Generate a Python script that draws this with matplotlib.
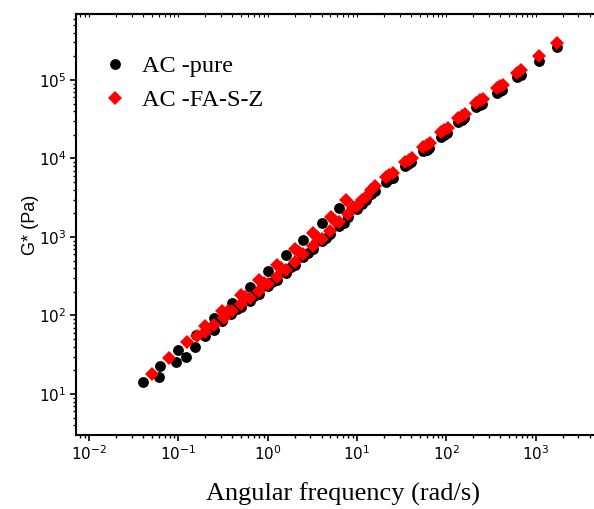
import matplotlib
matplotlib.use("Agg")
import matplotlib.pyplot as plt
from matplotlib.ticker import FixedLocator, LogLocator, NullFormatter

plt.rcParams["mathtext.fontset"] = "custom"
plt.rcParams["mathtext.rm"] = "Liberation Sans"
plt.rcParams["mathtext.it"] = "Liberation Sans:italic"
plt.rcParams["axes.unicode_minus"] = False

# ── DATA ──────────────────────────────────────────────────────────────────────

# AC-pure : angular frequency (rad/s) and G* (Pa)
pure_freq = [0.063, 0.1, 0.158, 0.25, 0.4, 0.63, 1.0, 1.58, 2.51, 4.0, 6.3,
             0.04, 0.061, 0.095, 0.123, 0.155, 0.2, 0.25, 0.31, 0.39, 0.5,
             0.63, 0.79, 1.0, 1.26, 1.58, 2.0, 2.5, 3.2, 4.0, 5.0, 6.3, 7.9,
             10, 12.6,
             0.45, 0.71, 1.12, 1.8, 2.8, 4.5, 7.1, 11.2,
             14.4, 16, 21, 23, 25, 34, 37, 40, 55, 60, 64, 87, 95, 102,
             135, 148, 158, 215, 235, 250, 365, 395, 420, 610, 680, 1075, 1730]
pure_g = [22.8, 36, 56, 93, 145, 230, 370, 590, 915, 1500, 2350,
          14.2, 16.5, 25.5, 30, 40, 55, 66, 85, 105, 130,
          155, 190, 235, 285, 350, 440, 550, 700, 880, 1100, 1400, 1800,
          2300, 3000,
          120, 175, 265, 410, 620, 980, 1500, 2600,
          3500, 3800, 5000, 5400, 5700, 8000, 8400, 8900, 12300, 13000, 13600,
          19000, 20000, 21000, 29000, 31000, 32500, 45000, 48000, 50000,
          68000, 72000, 75000, 108000, 116000, 172000, 262000]

# AC-FA-S-Z
fasz_freq = [0.051, 0.079, 0.126, 0.2, 0.31, 0.5, 0.79, 1.26, 2.0, 3.2, 5.1, 7.5,
             0.16, 0.2, 0.25, 0.32, 0.4, 0.5, 0.63, 0.8, 1.0, 1.26, 1.6, 2.0,
             2.5, 3.2, 4.0, 5.0, 6.3, 8.0, 10, 12.6,
             0.36, 0.56, 0.9, 1.42, 2.25, 3.6, 5.6, 9.0, 11.2,
             14.4, 16, 21, 23, 25, 34, 38, 41, 55, 60, 65, 87, 95, 103,
             135, 148, 160, 215, 235, 255, 365, 395, 425, 615, 690, 1075, 1730]
fasz_g = [18, 28.6, 46, 74, 114, 183, 283, 440, 700, 1130, 1780, 3000,
          55, 62, 75, 92, 115, 140, 168, 205, 255, 310, 380, 480,
          600, 760, 950, 1200, 1530, 1950, 2500, 3200,
          115, 170, 260, 400, 640, 1000, 1600, 2400, 3000,
          4000, 4400, 5800, 6200, 6600, 9000, 9600, 10200, 14000, 14800, 15600,
          21500, 23000, 24500, 33000, 35000, 37000, 51000, 55000, 58000,
          78000, 83000, 87000, 122000, 132000, 203000, 296000]

LABELS = ["AC -pure", "AC -FA-S-Z"]
X_TICKS = [1e-2, 1e-1, 1e0, 1e1, 1e2, 1e3]
Y_TICKS = [1e1, 1e2, 1e3, 1e4, 1e5]

# ── PLOT ──────────────────────────────────────────────────────────────────────

fig = plt.figure(figsize=(5.94, 5.09), dpi=100)
# axes run past the right edge of the figure, so no right spine shows
ax = fig.add_axes([76 / 594, 1 - 435 / 509, 534 / 594, 421 / 509])

ax.plot(pure_freq, pure_g, "o", color="black", ms=7.8, mew=0, label=LABELS[0])
ax.plot(fasz_freq, fasz_g, "D", color="red", ms=7.4, mew=0, label=LABELS[1])

ax.set_xscale("log")
ax.set_yscale("log")
ax.set_xlim(10 ** -2.146, 10 ** 3.83)
ax.set_ylim(10 ** 0.478, 10 ** 5.84)

ax.xaxis.set_major_locator(FixedLocator(X_TICKS))
ax.yaxis.set_major_locator(FixedLocator(Y_TICKS))
for axis in (ax.xaxis, ax.yaxis):
    axis.set_minor_locator(LogLocator(base=10, subs=range(2, 10), numticks=20))
    axis.set_minor_formatter(NullFormatter())

ax.tick_params(which="major", direction="out", length=4, width=1.2,
               labelsize=11, pad=3)
ax.tick_params(which="minor", direction="out", length=2.5, width=1.0)

# top spine only carries tiny inward ticks
top = ax.secondary_xaxis("top")
top.xaxis.set_major_locator(FixedLocator(X_TICKS))
top.xaxis.set_minor_locator(LogLocator(base=10, subs=range(2, 10), numticks=20))
top.tick_params(which="both", direction="in", length=2, width=0.8,
                labeltop=False)
top.spines["top"].set_linewidth(1.5)

for s in ("left", "bottom", "top"):
    ax.spines[s].set_linewidth(1.5)
ax.spines["right"].set_visible(False)

ax.set_xlabel("Angular frequency (rad/s)", family="Liberation Serif",
              fontsize=19, labelpad=14)
ax.set_ylabel("G* (Pa)", family="Liberation Sans", fontsize=13, labelpad=0)

ax.legend(loc="upper left", bbox_to_anchor=(0.033, 0.925), frameon=False,
          numpoints=1, handlelength=1.0, handletextpad=0.6, labelspacing=0.5,
          borderaxespad=0, prop={"family": "Liberation Serif", "size": 17.5})

fig.savefig("out.png", dpi=100)
